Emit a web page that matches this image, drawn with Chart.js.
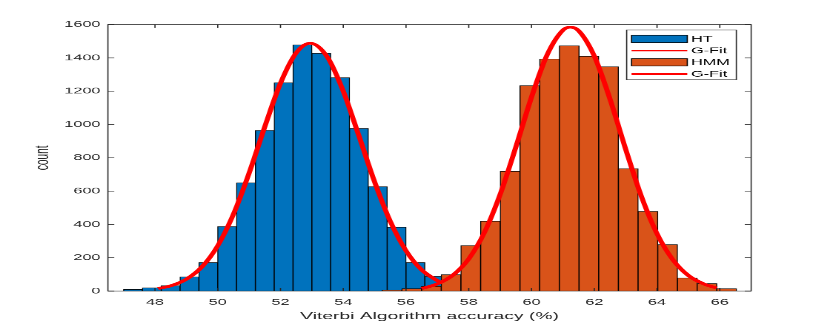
<!DOCTYPE html>
<html>
<head>
<meta charset="utf-8">
<title>Viterbi Algorithm accuracy</title>
<script src="https://cdn.jsdelivr.net/npm/chart.js@4.4.1/dist/chart.umd.min.js"></script>
<style>
  html, body { margin: 0; padding: 0; background: #fff; }
</style>
</head>
<body>
<!-- drawn as a 560x420 figure and stretched to 830x327, like the reference image -->
<canvas id="hist" width="560" height="420" style="width:830px;height:327px"></canvas>
<script>
// HT histogram (bin centres, bin width 0.6)
const htCenters = [47.3, 47.9, 48.5, 49.1, 49.7, 50.3, 50.9, 51.5, 52.1, 52.7, 53.3, 53.9, 54.5, 55.1, 55.7, 56.3, 56.9];
const htCounts = [10, 20, 32, 85, 171, 387, 650, 964, 1251, 1478, 1427, 1281, 976, 626, 383, 171, 88];

// HMM histogram (bin centres, bin width ~0.627)
const hmmCenters = [55.555, 56.183, 56.810, 57.437, 58.064, 58.692, 59.319, 59.946, 60.574, 61.201, 61.828, 62.455, 63.083, 63.710, 64.337, 64.965, 65.592, 66.219];
const hmmCounts = [5, 14, 28, 98, 273, 419, 719, 1233, 1393, 1473, 1409, 1347, 735, 478, 279, 78, 44, 14];

// gaussian fit curves
const htFitX = [48.1, 48.5, 49, 49.5, 50, 50.5, 51, 51.5, 52, 52.5, 52.95, 53.5, 54, 54.5, 55, 55.5, 56, 56.5, 57.1];
const htFitY = [15, 31, 71, 146, 272, 461, 708, 987, 1248, 1430, 1488, 1403, 1200, 931, 655, 418, 242, 127, 50];
const hmmFitX = [56.5, 57, 57.5, 58, 58.5, 59, 59.5, 60, 60.5, 61, 61.24, 61.5, 62, 62.5, 63, 63.5, 64, 64.5, 65, 65.5, 65.9];
const hmmFitY = [15, 43, 96, 193, 352, 580, 864, 1164, 1419, 1566, 1584, 1563, 1411, 1153, 852, 569, 344, 189, 93, 42, 18];

const xTickValues = [48, 50, 52, 54, 56, 58, 60, 62, 64, 66];
const yTickValues = [0, 200, 400, 600, 800, 1000, 1200, 1400, 1600];

const AXIS_COLOR = '#262626';
const TICK_LEN = 4.3;

const toPoints = (xs, ys) => xs.map((x, i) => ({ x, y: ys[i] }));
const fixedTicks = (values) => (scale) => {
  scale.ticks = values.map((value) => ({ value }));
};

Chart.defaults.font.family = "'Liberation Sans', Arial, Helvetica, sans-serif";
Chart.defaults.font.size = 11;
Chart.defaults.color = AXIS_COLOR;

// box round the axes with inward tick marks, matlab style
const matlabAxes = {
  id: 'matlabAxes',
  afterDatasetsDraw(chart) {
    const { ctx, chartArea: a, scales } = chart;
    ctx.save();
    ctx.strokeStyle = AXIS_COLOR;
    ctx.lineWidth = 0.8;
    ctx.beginPath();
    scales.x.ticks.forEach((t) => {
      const px = scales.x.getPixelForValue(t.value);
      ctx.moveTo(px, a.bottom);
      ctx.lineTo(px, a.bottom - TICK_LEN);
      ctx.moveTo(px, a.top);
      ctx.lineTo(px, a.top + TICK_LEN);
    });
    scales.y.ticks.forEach((t) => {
      const py = scales.y.getPixelForValue(t.value);
      ctx.moveTo(a.left, py);
      ctx.lineTo(a.left + TICK_LEN, py);
      ctx.moveTo(a.right, py);
      ctx.lineTo(a.right - TICK_LEN, py);
    });
    ctx.stroke();
    ctx.strokeRect(a.left, a.top, a.right - a.left, a.bottom - a.top);
    ctx.restore();
  }
};

// legend box in the top right corner of the axes
const boxLegend = {
  id: 'boxLegend',
  afterDraw(chart) {
    const { ctx, chartArea } = chart;
    const sets = chart.data.datasets;
    const boxW = 74;
    const rowH = 15;
    const boxH = rowH * sets.length + 4;
    const left = chartArea.right - 10 - boxW;
    const top = chartArea.top + 7;
    const sx = left + 3.3;
    const sw = 37.6;

    ctx.save();
    ctx.fillStyle = '#fff';
    ctx.fillRect(left, top, boxW, boxH);
    ctx.strokeStyle = AXIS_COLOR;
    ctx.lineWidth = 0.8;
    ctx.strokeRect(left, top, boxW, boxH);
    ctx.font = "11px 'Liberation Sans', Arial, Helvetica, sans-serif";
    ctx.textBaseline = 'middle';
    ctx.textAlign = 'left';

    sets.forEach((ds, i) => {
      const cy = top + 4 + rowH * (i + 0.5);
      if (ds.type === 'bar') {
        ctx.fillStyle = ds.backgroundColor;
        ctx.fillRect(sx, cy - 4.7, sw, 9.4);
        ctx.strokeStyle = '#000';
        ctx.lineWidth = 0.8;
        ctx.strokeRect(sx, cy - 4.7, sw, 9.4);
      } else {
        ctx.strokeStyle = ds.borderColor;
        ctx.lineWidth = 2;
        ctx.beginPath();
        ctx.moveTo(sx, cy);
        ctx.lineTo(sx + sw, cy);
        ctx.stroke();
      }
      ctx.fillStyle = '#000';
      ctx.fillText(ds.label, sx + sw + 2.5, cy + 0.5);
    });
    ctx.restore();
  }
};

const barStyle = {
  type: 'bar',
  borderColor: '#000',
  borderWidth: 0.7,
  barPercentage: 1,
  categoryPercentage: 1,
  grouped: false
};

const fitStyle = {
  type: 'line',
  label: 'G-Fit',
  borderColor: '#FF0000',
  borderWidth: 3.5,
  pointRadius: 0,
  cubicInterpolationMode: 'monotone',
  fill: false,
  order: 0
};

new Chart(document.getElementById('hist'), {
  data: {
    datasets: [
      { ...barStyle, label: 'HT', data: toPoints(htCenters, htCounts), backgroundColor: '#0072BD', xAxisID: 'x', order: 2 },
      { ...fitStyle, data: toPoints(htFitX, htFitY), xAxisID: 'x' },
      { ...barStyle, label: 'HMM', data: toPoints(hmmCenters, hmmCounts), backgroundColor: '#D95319', xAxisID: 'x2', order: 1 },
      { ...fitStyle, data: toPoints(hmmFitX, hmmFitY), xAxisID: 'x' }
    ]
  },
  options: {
    responsive: false,
    devicePixelRatio: 2,
    animation: false,
    layout: { padding: { left: 0, right: 53.2, top: 31.5, bottom: 0 } },
    plugins: {
      legend: { display: false },
      tooltip: { enabled: false }
    },
    scales: {
      x: {
        type: 'linear',
        min: 46.5,
        max: 67,
        offset: false,
        afterBuildTicks: fixedTicks(xTickValues),
        afterFit: (scale) => { scale.height = 46.2; },
        grid: { display: false, drawTicks: false },
        border: { display: false },
        ticks: { padding: 8, maxRotation: 0, autoSkip: false },
        title: {
          display: true,
          text: 'Viterbi Algorithm accuracy (%)',
          font: { size: 13 },
          padding: { top: 0, bottom: 6 }
        }
      },
      x2: {
        type: 'linear',
        min: 46.5,
        max: 67,
        offset: false,
        display: false,
        afterBuildTicks: fixedTicks(xTickValues)
      },
      y: {
        min: 0,
        max: 1600,
        afterBuildTicks: fixedTicks(yTickValues),
        afterFit: (scale) => { scale.width = 72.8; },
        grid: { display: false, drawTicks: false },
        border: { display: false },
        ticks: { padding: 5, callback: (value) => String(value) },
        title: {
          display: true,
          text: 'count',
          font: { size: 13 },
          padding: { top: 21, bottom: 0 }
        }
      }
    }
  },
  plugins: [matlabAxes, boxLegend]
});
</script>
</body>
</html>
